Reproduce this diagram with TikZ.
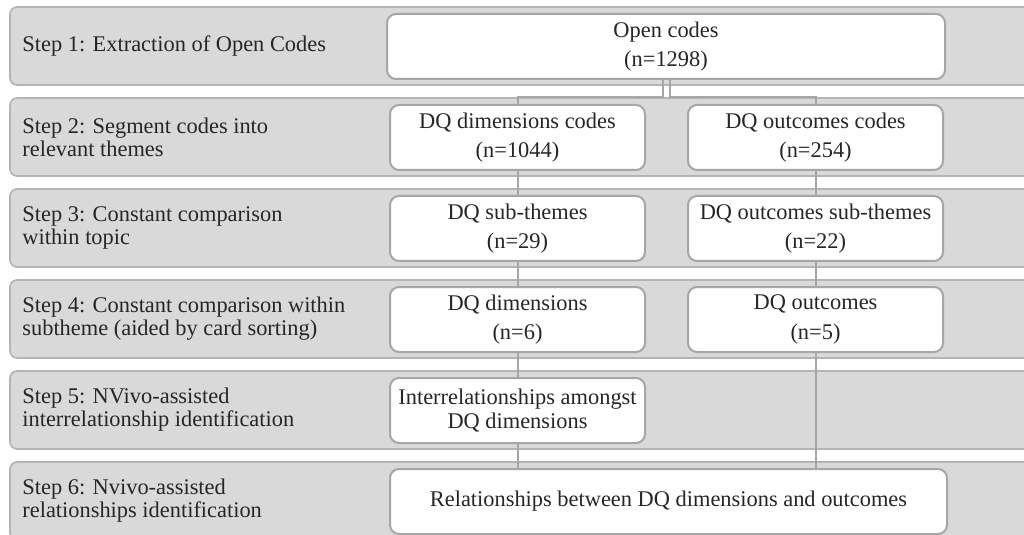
\documentclass[tikz,border=0pt]{standalone}
\usepackage{fontspec}
\setmainfont{Liberation Serif}
\usepackage{xcolor}
\usetikzlibrary{positioning}

\definecolor{bandfill}{HTML}{D9D9D9}
\definecolor{bandline}{HTML}{B4B4B4}
\definecolor{boxline}{HTML}{A6A6A6}
\definecolor{txt}{HTML}{262626}

\begin{document}
\begin{tikzpicture}[x=0.5pt, y=-0.5pt,
    band/.style={draw=bandline, fill=bandfill, line width=0.8pt, rounded corners=3.5pt,
        minimum width=515pt, minimum height=39pt, inner sep=0pt},
    steplabel/.style={anchor=west, align=left, text=txt, inner sep=0pt,
        font=\fontsize{11.2}{11.6}\selectfont},
    codebox/.style={draw=boxline, fill=white, line width=1pt, rounded corners=4.5pt,
        minimum width=127.5pt, minimum height=32.5pt, align=center, text=txt,
        inner sep=0pt, font=\fontsize{11.2}{11.6}\selectfont},
    conn/.style={draw=boxline, line width=1pt}]
    \clip (0,0) rectangle (1024,535);
    \useasboundingbox (0,0) rectangle (1024,535);

    % Bands
    \node[band] (band1) at (525, 46) {};
    \node[band] (band2) at (525,137) {};
    \node[band] (band3) at (525,228) {};
    \node[band] (band4) at (525,319) {};
    \node[band] (band5) at (525,410) {};
    \node[band] (band6) at (525,501) {};

    % Step labels
    \node[steplabel] (s1) at (22, 46) {Step 1: Extraction of Open Codes};
    \node[steplabel] (s2) at (22,137) {Step 2: Segment codes into\\relevant themes};
    \node[steplabel] (s3) at (22,228) {Step 3: Constant comparison\\within topic};
    \node[steplabel] (s4) at (22,319) {Step 4: Constant comparison within\\subtheme (aided by card sorting)};
    \node[steplabel] (s5) at (22,410) {Step 5: NVivo-assisted\\interrelationship identification};
    \node[steplabel] (s6) at (22,501) {Step 6: Nvivo-assisted\\relationships identification};

    % Paths
    \draw[conn] (666,79) ++(-3.5,0) coordinate (ojoinL) -- ++(0,18) -| (517.5,110);
    \draw[conn] (666,79) ++(3.5,0) coordinate (ojoinR) -- ++(0,18) -| (815.5,110);
    \draw[conn] (517.5,137) -- (517.5,501);
    \draw[conn] (815.5,137) -- (815.5,501);

    % Nodes
    \node[codebox, minimum width=279pt] (open) at (666, 46.5) {Open codes\\[3pt](n=1298)};
    \node[codebox] (dimcodes) at (517.5,137.5) {DQ dimensions codes\\[3pt](n=1044)};
    \node[codebox] (outcodes) at (815.5,137.5) {DQ outcomes codes\\[3pt](n=254)};
    \node[codebox] (dimsub) at (517.5,228.5) {DQ sub-themes\\[3pt](n=29)};
    \node[codebox] (outsub) at (815.5,228.5) {DQ outcomes sub-themes\\[3pt](n=22)};
    \node[codebox] (dims) at (517.5,319.5) {DQ dimensions\\[3pt](n=6)};
    \node[codebox] (outs) at (815.5,319.5) {DQ outcomes\\[3pt](n=5)};
    \node[codebox] (inter) at (517.5,410.5) {Interrelationships amongst\\DQ dimensions};
    \node[codebox, minimum width=278.5pt] (rel) at (668.5,501.5) {Relationships between DQ dimensions and outcomes};
\end{tikzpicture}
\end{document}
